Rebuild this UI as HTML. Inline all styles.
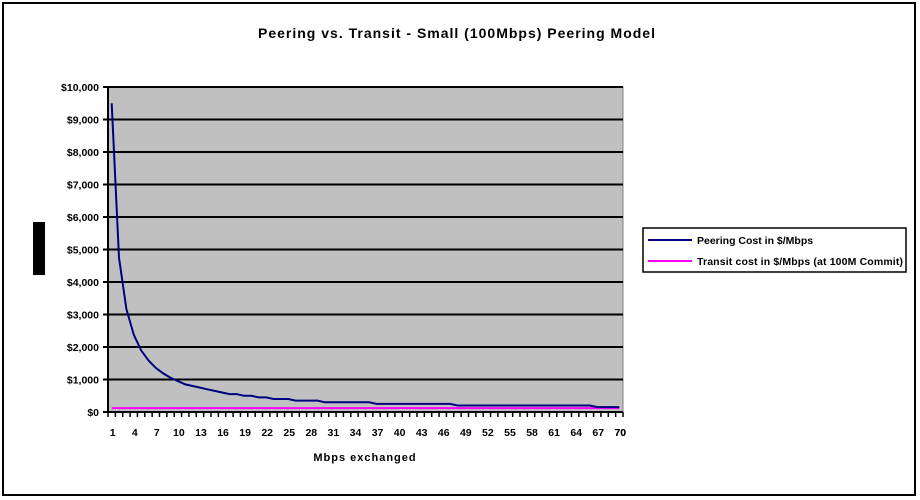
<!DOCTYPE html>
<html><head><meta charset="utf-8"><style>
body{margin:0;background:#fff;}
svg{display:block;font-family:"Liberation Sans",sans-serif;}
</style></head><body>
<svg id="s" width="920" height="500" xmlns="http://www.w3.org/2000/svg">
<rect x="3" y="3" width="912" height="492" fill="#fff" stroke="#000" stroke-width="2"/>
<rect x="33" y="222" width="12" height="53" fill="#000"/>
<text x="457" y="38" text-anchor="middle" font-size="14" font-weight="bold" letter-spacing="1">Peering vs. Transit - Small (100Mbps) Peering Model</text>
<rect x="108" y="87" width="515" height="325" fill="#c0c0c0" stroke="#808080" stroke-width="1"/>
<g id="grid"></g>
<line x1="108" y1="87" x2="108" y2="412" stroke="#000" stroke-width="2"/>
<line x1="108" y1="412" x2="623" y2="412" stroke="#000" stroke-width="2"/>
<polyline id="tr" fill="none" stroke="#ff00ff" stroke-width="2"/>
<polyline id="pc" fill="none" stroke="#000080" stroke-width="2"/>
<text x="365" y="461" text-anchor="middle" font-size="11" font-weight="bold" letter-spacing="1">Mbps exchanged</text>
<rect x="643" y="228" width="263" height="44" fill="#fff" stroke="#000" stroke-width="1.5"/>
<line x1="648" y1="240" x2="692" y2="240" stroke="#000080" stroke-width="2"/>
<text x="697" y="244" font-size="10.5" font-weight="bold">Peering Cost in $/Mbps</text>
<line x1="648" y1="261" x2="692" y2="261" stroke="#ff00ff" stroke-width="2"/>
<text x="697" y="265" font-size="10.5" font-weight="bold" textLength="206">Transit cost in $/Mbps (at 100M Commit)</text>
</svg>
<script>
var ns="http://www.w3.org/2000/svg",g=document.getElementById("grid"),s=document.getElementById("s");
function el(t,a,p){var e=document.createElementNS(ns,t);for(var k in a)e.setAttribute(k,a[k]);(p||g).appendChild(e);return e;}
function Y(v){return 412-v*0.0325;}
for(var i=0;i<=10;i++){var y=Y(i*1000);
 if(i>0)el("line",{x1:108,y1:y,x2:623,y2:y,stroke:"#000","stroke-width":2});
 el("line",{x1:103,y1:y,x2:108,y2:y,stroke:"#000","stroke-width":2});
 var t=el("text",{x:99,y:y+4,"text-anchor":"end","font-size":"10.5","font-weight":"bold"});
 t.textContent="$"+(i==0?"0":(i*1000).toLocaleString("en-US"));}
var w=515/70;function X(i){return 108+(i-0.5)*w;}
for(var i=0;i<=70;i++){var x=108+i*w;el("line",{x1:x,y1:412,x2:x,y2:417,stroke:"#000","stroke-width":1.5});}
for(var i=1;i<=70;i+=3){var t=el("text",{x:X(i)+1,y:436,"text-anchor":"middle","font-size":"10.5","font-weight":"bold"});t.textContent=i;}
var t=el("text",{x:X(70)+1,y:436,"text-anchor":"middle","font-size":"10.5","font-weight":"bold"});t.textContent="70";
var p=[],q=[];
for(var i=1;i<=70;i++){var v;
 if(i<=30)v=i<=10?9500/i:Math.round(9500/i/50)*50;
 else if(i<=36)v=300;else if(i<=47)v=250;else if(i<=66)v=200;else v=150;
 p.push(X(i).toFixed(1)+","+Y(v).toFixed(1));q.push(X(i).toFixed(1)+","+Y(120).toFixed(1));}
document.getElementById("pc").setAttribute("points",p.join(" "));
document.getElementById("tr").setAttribute("points",q.join(" "));
</script>
</body></html>
